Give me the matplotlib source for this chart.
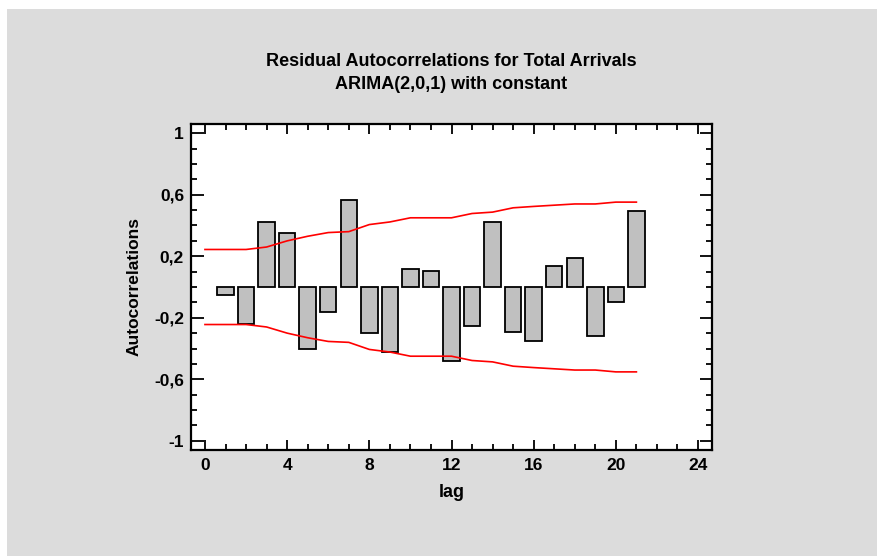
import numpy as np
import matplotlib
matplotlib.use("Agg")
import matplotlib.pyplot as plt
from matplotlib.patches import Rectangle
from matplotlib.ticker import MultipleLocator, FuncFormatter

plt.rcParams['font.family'] = ['Liberation Sans', 'DejaVu Sans']

# residual autocorrelations per lag
lags = list(range(1, 22))
acf = [-0.05, -0.243, 0.423, 0.35, -0.40, -0.165, 0.567, -0.30, -0.425, 0.115,
       0.104, -0.482, -0.254, 0.423, -0.29, -0.354, 0.135, 0.19, -0.317, -0.10, 0.495]

# probability limits (upper; lower is mirrored), from lag 0 to 21
limit_lags = list(range(0, 22))
limits = [0.244, 0.244, 0.244, 0.26, 0.30, 0.33, 0.354, 0.36, 0.406, 0.423, 0.45,
          0.45, 0.45, 0.478, 0.487, 0.515, 0.524, 0.532, 0.54, 0.54, 0.552, 0.552]

W, H = 878, 556
fig = plt.figure(figsize=(W / 100, H / 100), dpi=100)
fig.patch.set_facecolor('white')
fig.patches.append(Rectangle((7 / W, 0), 1 - 7 / W, 1 - 9 / H, transform=fig.transFigure,
                             facecolor='#dcdcdc', edgecolor='none', zorder=-10))

ax = fig.add_axes([191 / W, 1 - 450 / H, (712 - 191) / W, (450 - 124) / H])
ax.set_facecolor('white')

ax.bar(lags, acf, width=0.8, color='#c0c0c0', edgecolor='black', linewidth=1.3, zorder=2)
ax.plot(limit_lags, limits, color='red', linewidth=1.2, zorder=3)
ax.plot(limit_lags, [-v for v in limits], color='red', linewidth=1.2, zorder=3)

ax.set_xlim(-0.68, 24.68)
ax.set_ylim(-1.06, 1.06)

ax.xaxis.set_major_locator(MultipleLocator(4))
ax.xaxis.set_minor_locator(MultipleLocator(1))
ax.yaxis.set_major_locator(MultipleLocator(0.4, offset=0.2))
ax.yaxis.set_minor_locator(MultipleLocator(0.1))


def comma_fmt(v, pos):
    if abs(v - round(v)) < 1e-9:
        return f"{int(round(v))}"
    return f"{v:.1f}".replace('.', ',')


ax.yaxis.set_major_formatter(FuncFormatter(comma_fmt))

ax.tick_params(which='both', direction='in', top=True, right=True, width=1.3)
ax.tick_params(axis='y', which='major', length=9, labelsize=12.5, pad=5)
ax.tick_params(axis='x', which='major', length=7, labelsize=12.5, pad=6)
ax.tick_params(which='minor', length=4)
for lbl in ax.get_xticklabels() + ax.get_yticklabels():
    lbl.set_fontweight('bold')

for s in ax.spines.values():
    s.set_linewidth(1.6)

ax.set_xlabel('lag', fontsize=13, fontweight='bold', labelpad=8)
ax.set_ylabel('Autocorrelations', fontsize=12.5, fontweight='bold', labelpad=9)

fig.text(451 / W, 1 - 62 / H, 'Residual Autocorrelations for Total Arrivals',
         ha='center', va='center', fontsize=13, fontweight='bold')
fig.text(451 / W, 1 - 85 / H, 'ARIMA(2,0,1) with constant',
         ha='center', va='center', fontsize=13, fontweight='bold')

fig.savefig('out.png', dpi=100)
